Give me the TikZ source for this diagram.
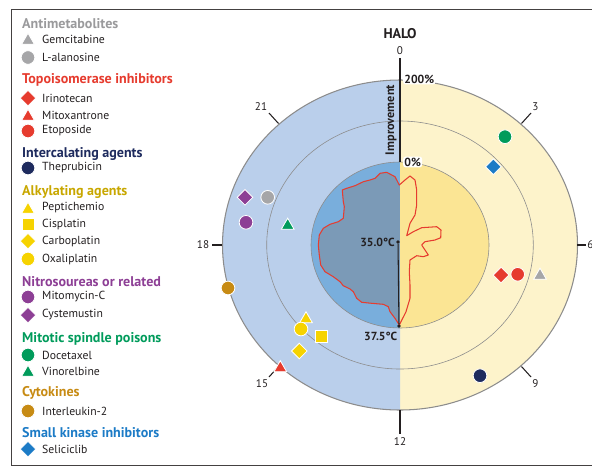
\documentclass[tikz,border=0pt]{standalone}
\usepackage{fontspec}
\setmainfont{PT Sans}
\usetikzlibrary{shapes.geometric}

\definecolor{leftout}{HTML}{BACFEB}
\definecolor{leftin}{HTML}{79AEDC}
\definecolor{haloin}{HTML}{7B9AB7}
\definecolor{rightout}{HTML}{FDF3CB}
\definecolor{rightin}{HTML}{FBE594}
\definecolor{ringgray}{HTML}{8C8C8C}
\definecolor{halored}{HTML}{E63C2F}
\definecolor{cgray}{HTML}{9A9A9C}
\definecolor{mgray}{HTML}{A6A6A8}
\definecolor{cred}{HTML}{E63B2E}
\definecolor{cnavy}{HTML}{1E2B5E}
\definecolor{cyellow}{HTML}{C8A700}
\definecolor{myellow}{HTML}{F6D300}
\definecolor{cpurple}{HTML}{8D3F95}
\definecolor{cgreen}{HTML}{009B5B}
\definecolor{cochre}{HTML}{C78B14}
\definecolor{cblue}{HTML}{1C7BC6}
\definecolor{ink}{HTML}{231F20}

\begin{document}
\begin{tikzpicture}[x=0.03cm,y=-0.03cm,
  txt/.style={inner sep=0pt,text=ink,font=\fontsize{10}{12}\selectfont},
  grp/.style={txt,anchor=west,font=\fontsize{12}{14}\selectfont\bfseries},
  itm/.style={txt,anchor=west},
  hourlbl/.style={txt,font=\fontsize{9.5}{11}\selectfont},
  boldlbl/.style={txt,font=\fontsize{10}{12}\selectfont\bfseries},
  mk/.style={inner sep=0pt,draw=white,line width=0.7pt},
  tri/.style={mk,regular polygon,regular polygon sides=3,minimum size=4.4mm},
  dia/.style={mk,diamond,minimum size=4.8mm},
  sqr/.style={mk,rectangle,minimum size=3.6mm},
  dot/.style={mk,circle,minimum size=4.1mm},
  ring/.style={draw=ringgray,line width=0.5pt},
  tickline/.style={draw=ink,line width=0.9pt},
  pin/.style={circle,fill=ink,inner sep=0pt,minimum size=1.1mm}]
\useasboundingbox (0,0) rectangle (592,468);

% frame
\draw[line width=0.8pt,draw=ink!85] (592,9) -- (11,9) -- (11,465) -- (592,465);

% halves of the plot
\fill[rightout] (400,245) ellipse [x radius=177.5,y radius=165];
\begin{scope}
  \clip (200,0) rectangle (400,468);
  \fill[leftout] (400,245) ellipse [x radius=177.5,y radius=165];
  \fill[leftin] (400,245) ellipse [x radius=89,y radius=83];
\end{scope}
\path[save path=\halocurve] (399.3,185) -- (395,176.7) -- (386.7,172.3) -- (380,173.3)
  -- (375,178.3) -- (370,180) -- (363.3,181.7) -- (355,185.7) -- (346.7,188.3)
  -- (342.3,190) -- (343.3,201.7) -- (344.3,206.7) -- (343.3,218.3) -- (338.3,221.7)
  -- (330,224.3) -- (323.3,228.3) -- (319.3,235) -- (318.3,245) -- (319.3,255)
  -- (320.7,265) -- (325,271.7) -- (333.3,276.7) -- (340,281.7) -- (343.3,285.7)
  -- (350,289) -- (353.3,291.7) -- (356.7,298.3) -- (361.7,302.3) -- (371.7,303.3)
  -- (383.3,304.3) -- (388.3,306.7) -- (390,311.7) -- (395,318.3) -- (399.3,325)
  -- (406,311.7) -- (410,298.3) -- (410,285) -- (409.3,271.7) -- (410,260)
  -- (416.7,255.7) -- (423.3,256.7) -- (428.3,255) -- (425,250) -- (421.7,245)
  -- (425,241.7) -- (435,240) -- (440.7,237.7) -- (441,230) -- (436.7,226.7)
  -- (421.7,227.7) -- (413.3,231.7) -- (406.7,235.7) -- (410,223.3) -- (415,215)
  -- (416.7,205) -- (416.7,190) -- (415,180) -- (410,176) -- (405,180) -- cycle;
\fill[haloin,use path=\halocurve];
\begin{scope}
  \clip (400,0) rectangle (600,468);
  \fill[rightin] (400,245) ellipse [x radius=89,y radius=83];
\end{scope}

% rings
\draw[ring,line width=0.9pt] (400,245) ellipse [x radius=177.5,y radius=165];
\draw[ring] (400,245) ellipse [x radius=133.3,y radius=124];
\draw[ring] (400,245) ellipse [x radius=89,y radius=83];
\draw[halored,line width=0.9pt,line join=round,use path=\halocurve];

% hour ticks
\node[txt,font=\fontsize{12}{14}\selectfont\bfseries] (halo) at (400,34) {HALO};
\node[hourlbl] (h0) at (400,51) {0};
\coordinate (a0) at (400,58);
\coordinate (a200) at (400,80);
\coordinate (azero) at (400,162);
\draw[tickline] (a0) -- (azero);
\foreach \hr/\sx/\sy/\ex/\ey/\lx/\ly in {3/521.5/123.5/531/113/535.5/106.5,
    6/577/245/586/245/590.5/245, 9/521.5/366.5/531/377/535.5/383.5,
    12/400/410/400/434/400/441.5, 15/278.5/366.5/269/377/262/384,
    18/222/245/212/245/203/245, 21/278.5/123.5/269/113/261/106.5} {
  \coordinate (s\hr) at (\sx,\sy);
  \coordinate (e\hr) at (\ex,\ey);
  \draw[tickline] (s\hr) -- (e\hr);
  \node[hourlbl] (h\hr) at (\lx,\ly) {\hr};
}
\node[boldlbl,anchor=west,fill=white,inner sep=1pt,rounded corners=2pt] (p200) at (403,79) {200\%};
\node[boldlbl,anchor=west,fill=white,inner sep=1pt,rounded corners=2pt] (p0) at (403,162) {0\%};
\node[boldlbl,rotate=90,font=\fontsize{10.5}{12}\selectfont\bfseries] (impr) at (391,120) {Improvement};

% temperature axis
\node[pin] (t35) at (398,242) {};
\node[pin] (t375) at (399,326) {};
\draw[line width=0.9pt,draw=ink] (t35) -- (t375);
\node[boldlbl,anchor=east] (l35) at (395,242) {35.0°C};
\node[boldlbl,anchor=east] (l375) at (397.5,336) {37.5°C};

% drugs on the plot
\node[dot,fill=mgray] (mAla) at (267.7,197.3) {};
\node[dia,fill=cpurple] (mCys) at (245,197.3) {};
\node[dot,fill=cpurple] (mMit) at (246,222.3) {};
\node[tri,fill=cgreen] (mVin) at (287.7,225.5) {};
\node[dot,fill=cochre] (mInt) at (228,288) {};
\node[tri,fill=myellow] (mPep) at (306,319) {};
\node[dot,fill=myellow] (mOxa) at (301,329) {};
\node[sqr,fill=myellow] (mCis) at (321.7,336.7) {};
\node[dia,fill=myellow] (mCar) at (299.3,351) {};
\node[tri,fill=cred] (mMtx) at (280.3,368) {};
\node[dot,fill=cgreen] (mDoc) at (505,136.7) {};
\node[dia,fill=cblue] (mSel) at (493.3,166.7) {};
\node[dia,fill=cred] (mIri) at (501,275) {};
\node[dot,fill=cred] (mEto) at (517.7,274.3) {};
\node[tri,fill=mgray] (mGem) at (540,275.5) {};
\node[dot,fill=cnavy] (mThe) at (480,375.7) {};

% legend
\node[grp,text=cgray] (tAnti) at (22,23.5) {Antimetabolites};
\node[tri,fill=mgray] (kGem) at (28,40.5) {};
\node[itm] (lGem) at (42,39) {Gemcitabine};
\node[dot,fill=mgray] (kAla) at (28,57.5) {};
\node[itm] (lAla) at (42,57.5) {L-alanosine};
\node[grp,text=cred] (tTopo) at (22,80) {Topoisomerase inhibitors};
\node[dia,fill=cred] (kIri) at (28,98) {};
\node[itm] (lIri) at (42,98) {Irinotecan};
\node[tri,fill=cred] (kMtx) at (28,116.5) {};
\node[itm] (lMtx) at (42,115) {Mitoxantrone};
\node[dot,fill=cred] (kEto) at (28,131) {};
\node[itm] (lEto) at (42,131) {Etoposide};
\node[grp,text=cnavy] (tInter) at (22,154) {Intercalating agents};
\node[dot,fill=cnavy] (kThe) at (28,168) {};
\node[itm] (lThe) at (42,168) {Theprubicin};
\node[grp,text=cyellow] (tAlk) at (22,192) {Alkylating agents};
\node[tri,fill=myellow] (kPep) at (28,209.5) {};
\node[itm] (lPep) at (42,208) {Peptichemio};
\node[sqr,fill=myellow] (kCis) at (28,224) {};
\node[itm] (lCis) at (42,224) {Cisplatin};
\node[dia,fill=myellow] (kCar) at (28,241) {};
\node[itm] (lCar) at (42,241) {Carboplatin};
\node[dot,fill=myellow] (kOxa) at (28,259) {};
\node[itm] (lOxa) at (42,259) {Oxaliplatin};
\node[grp,text=cpurple] (tNitro) at (22,282) {Nitrosoureas or related};
\node[dot,fill=cpurple] (kMit) at (28,297) {};
\node[itm] (lMit) at (42,297) {Mitomycin-C};
\node[dia,fill=cpurple] (kCys) at (28,315) {};
\node[itm] (lCys) at (42,315) {Cystemustin};
\node[grp,text=cgreen] (tSpin) at (22,339) {Mitotic spindle poisons};
\node[dot,fill=cgreen] (kDoc) at (28,355) {};
\node[itm] (lDoc) at (42,355) {Docetaxel};
\node[tri,fill=cgreen] (kVin) at (28,372.5) {};
\node[itm] (lVin) at (42,371) {Vinorelbine};
\node[grp,text=cochre] (tCyto) at (22,393) {Cytokines};
\node[dot,fill=cochre] (kInt) at (28,411) {};
\node[itm] (lInt) at (42,411) {Interleukin-2};
\node[grp,text=cblue] (tKin) at (22,433) {Small kinase inhibitors};
\node[dia,fill=cblue] (kSel) at (28,449) {};
\node[itm] (lSel) at (42,449) {Seliciclib};
\end{tikzpicture}
\end{document}
